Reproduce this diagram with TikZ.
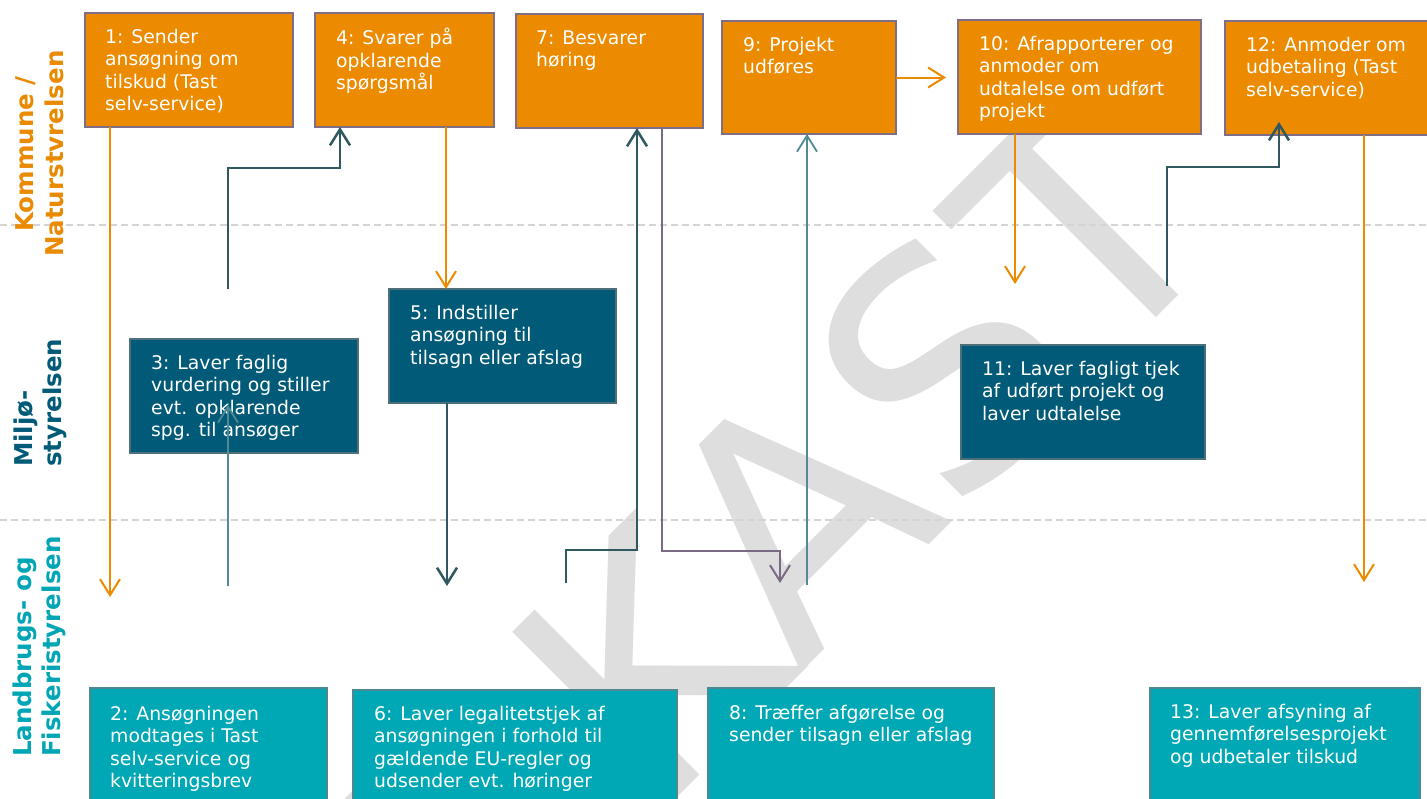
\documentclass[tikz,border=0pt]{standalone}
\usepackage{fontspec}
\setmainfont{DejaVu Sans}
\usetikzlibrary{arrows.meta,calc}
\definecolor{orng}{HTML}{EC8B00}
\definecolor{oborder}{HTML}{7E6E88}
\definecolor{dblue}{HTML}{005A78}
\definecolor{bborder}{HTML}{4C6F79}
\definecolor{teal2}{HTML}{00A8B5}
\definecolor{tborder}{HTML}{4E8891}
\definecolor{dline}{HTML}{2F5861}
\definecolor{lline}{HTML}{4F8C95}
\definecolor{pline}{HTML}{7B6A84}
\definecolor{lanegrey}{HTML}{D4D4D4}
\definecolor{wmgrey}{HTML}{DEDEDE}
\definecolor{lblorange}{HTML}{EA8A00}
\definecolor{lblblue}{HTML}{005A78}
\definecolor{lblteal}{HTML}{00A6B6}
\tikzset{
 box/.style={draw, line width=2pt, anchor=north west, inner sep=0, outer sep=0},
 obox/.style={box, fill=orng, draw=oborder},
 bbox/.style={box, fill=dblue, draw=bborder, line width=1.5pt},
 tbox/.style={box, fill=teal2, draw=tborder, line width=1.5pt},
 btext/.style={anchor=north west, inner sep=0, text=white, align=left, font=\fontsize{18.8}{22.5}\selectfont},
 lane/.style={draw=lanegrey, line width=2pt, dash pattern=on 7pt off 4pt},
 lbl/.style={rotate=90, anchor=base west, inner sep=0, font=\fontsize{24.5}{29}\selectfont\bfseries},
 tip/.style={-{Straight Barb[length=16pt,width=20pt]}},
 oarr/.style={tip, draw=orng, line width=2pt},
 darr/.style={tip, draw=dline, line width=2.5pt},
 larr/.style={tip, draw=lline, line width=1.8pt},
 parr/.style={tip, draw=pline, line width=2pt},
}
\begin{document}
\begin{tikzpicture}[x=1pt,y=-1pt]
\useasboundingbox (0,0) rectangle (1427,798);
\clip (0,0) rectangle (1427,798);
\fill[white] (0,0) rectangle (1427,798);
% watermark
\node[rotate=45, anchor=base west, inner sep=0, text=wmgrey, font=\fontsize{320}{320}\selectfont] (wm) at (315,1159) {UDKAST};
% lanes
\coordinate (l1a) at (0,225); \coordinate (l1b) at (1427,225);
\coordinate (l2a) at (0,520); \coordinate (l2b) at (1427,520);
\draw[lane] (l1a) -- (l1b);
\draw[lane] (l2a) -- (l2b);
% lane labels
\node[lbl, text=lblorange] (k1) at (34,232) {Kommune /};
\node[lbl, text=lblorange] (k2) at (63,257) {Naturstvrelsen};
\node[lbl, text=lblblue] (m1) at (32,467) {Miljø-};
\node[lbl, text=lblblue] (m2) at (61,467) {styrelsen};
\node[lbl, text=lblteal] (f1) at (31,757) {Landbrugs- og};
\node[lbl, text=lblteal] (f2) at (60,757) {Fiskeristyrelsen};
% boxes
\node[obox, minimum width=208, minimum height=114] (b1) at (85,13) {};
\node[obox, minimum width=179, minimum height=114] (b4) at (315,13) {};
\node[obox, minimum width=187, minimum height=114] (b7) at (516,14) {};
\node[obox, minimum width=174, minimum height=113] (b9) at (722,21) {};
\node[obox, minimum width=243, minimum height=114] (b10) at (958,20) {};
\node[obox, minimum width=220, minimum height=114] (b12) at (1225,21) {};
\node[bbox, minimum width=228, minimum height=114] (b3) at (130,339) {};
\node[bbox, minimum width=227, minimum height=114] (b5) at (389,289) {};
\node[bbox, minimum width=244, minimum height=114] (b11) at (961,345) {};
\node[tbox, minimum width=237, minimum height=150] (b2) at (90,688) {};
\node[tbox, minimum width=324, minimum height=150] (b6) at (353,690) {};
\node[tbox, minimum width=286, minimum height=150] (b8) at (708,688) {};
\node[tbox, minimum width=270, minimum height=150] (b13) at (1150,688) {};
% texts
\node[btext] (t1) at ($(b1.north west)+(20,15)$) {\rule{0pt}{15pt}1: Sender\\ansøgning om\\tilskud (Tast\\selv-service)};
\node[btext] (t4) at ($(b4.north west)+(21,15)$) {\rule{0pt}{15pt}4: Svarer på\\opklarende\\spørgsmål};
\node[btext] (t7) at ($(b7.north west)+(20,15)$) {\rule{0pt}{15pt}7: Besvarer\\høring};
\node[btext] (t9) at ($(b9.north west)+(21,15)$) {\rule{0pt}{15pt}9: Projekt\\udføres};
\node[btext] (t10) at ($(b10.north west)+(21,15)$) {\rule{0pt}{15pt}10: Afrapporterer og\\anmoder om\\udtalelse om udført\\projekt};
\node[btext] (t12) at ($(b12.north west)+(21,15)$) {\rule{0pt}{15pt}12: Anmoder om\\udbetaling (Tast\\selv-service)};
\node[btext] (t3) at ($(b3.north west)+(21,15)$) {\rule{0pt}{15pt}3: Laver faglig\\vurdering og stiller\\evt. opklarende\\spg. til ansøger};
\node[btext] (t5) at ($(b5.north west)+(21,15)$) {\rule{0pt}{15pt}5: Indstiller\\ansøgning til\\tilsagn eller afslag};
\node[btext] (t11) at ($(b11.north west)+(21,15)$) {\rule{0pt}{15pt}11: Laver fagligt tjek\\af udført projekt og\\laver udtalelse};
\node[btext] (t2) at ($(b2.north west)+(20,17)$) {\rule{0pt}{15pt}2: Ansøgningen\\modtages i Tast\\selv-service og\\kvitteringsbrev};
\node[btext] (t6) at ($(b6.north west)+(21,15)$) {\rule{0pt}{15pt}6: Laver legalitetstjek af\\ansøgningen i forhold til\\gældende EU-regler og\\udsender evt. høringer};
\node[btext] (t8) at ($(b8.north west)+(21,16)$) {\rule{0pt}{15pt}8: Træffer afgørelse og\\sender tilsagn eller afslag};
\node[btext] (t13) at ($(b13.north west)+(20,15)$) {\rule{0pt}{15pt}13: Laver afsyning af\\gennemførelsesprojekt\\og udbetaler tilskud};
% connector end points
\coordinate (e2) at (110,597);
\coordinate (s4) at (228,289);
\coordinate (s3) at (228,586);
\coordinate (e3) at (228,405);
\coordinate (e6) at (447,586);
\coordinate (s7) at (566,583);
\coordinate (e8) at (780,583);
\coordinate (s9) at (807,585);
\coordinate (e11) at (1015,284);
\coordinate (s12) at (1167,286);
\coordinate (e13) at (1364,582);
% connectors
\draw[oarr] (b1.south -| e2) -- (e2);
\draw[darr] (s4) -- ++(0,-121) -| ([xshift=25pt]b4.south west);
\draw[oarr] ([xshift=131pt]b4.south west) -- ([xshift=57pt]b5.north west);
\draw[larr] (s3) -- (e3);
\draw[darr] (b5.south -| e6) -- (e6);
\draw[darr] (s7) -- ++(0,-33) -| ([xshift=121pt]b7.south west);
\draw[parr] ([xshift=146pt]b7.south west) |- ($(e8)+(0,-32)$) -- (e8);
\draw[larr] (s9) -- (s9 |- b9.south);
\draw[oarr] (b9.east) -- ([xshift=-12pt]b10.west |- b9.east);
\draw[oarr] (b10.south -| e11) -- (e11);
\draw[darr] (s12) -- ++(0,-119) -| ([xshift=54pt,yshift=13pt]b12.south west);
\draw[oarr] ([xshift=139pt]b12.south west) -- (e13);
\end{tikzpicture}
\end{document}
